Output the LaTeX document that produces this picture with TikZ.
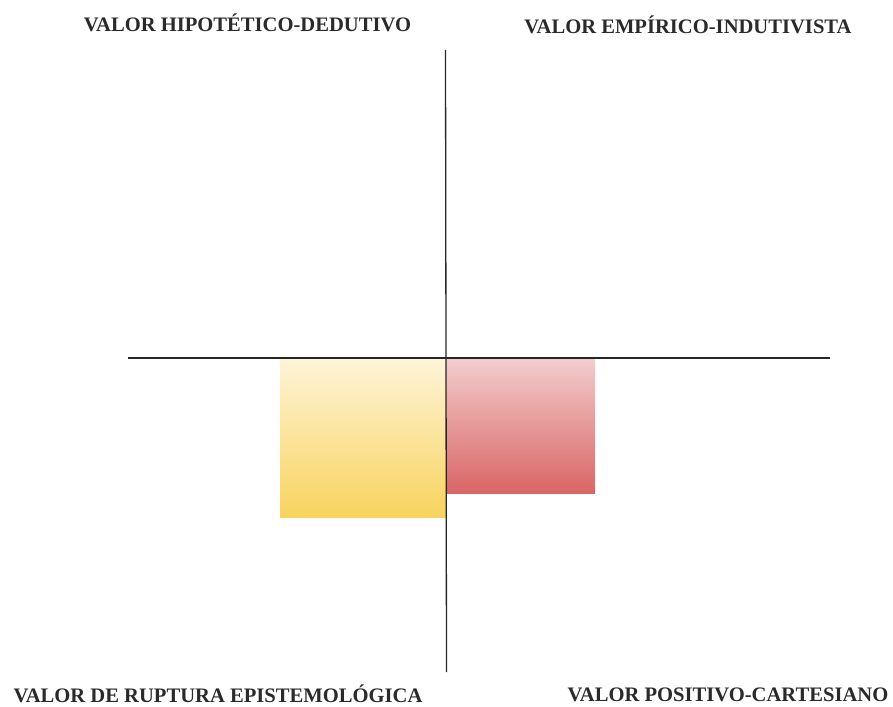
\documentclass[tikz,border=0pt]{standalone}
\usepackage{fontspec}
\setmainfont{Liberation Serif}
\definecolor{ytop}{HTML}{FEF4D8}
\definecolor{ybot}{HTML}{F8D35E}
\definecolor{rtop}{HTML}{F3CDCE}
\definecolor{rbot}{HTML}{D96565}
\definecolor{txt}{HTML}{2A2A2A}
\tikzset{
  lbl/.style={font=\fontsize{20.6}{24}\selectfont\bfseries, text=txt, inner sep=0pt, anchor=base},
  axis/.style={draw=black!85, line width=1.3pt},
}
\begin{document}
\begin{tikzpicture}[x=1pt,y=-1pt]
\useasboundingbox (0,0) rectangle (893,706);
% boxes
\shade[top color=ytop, bottom color=ybot] (280,358) rectangle (446,517);
\shade[top color=rtop, bottom color=rbot] (446,358) rectangle (595,493);
% axes
\coordinate (L) at (128,358);
\coordinate (R) at (830,358);
\coordinate (T) at (445.5,50);
\coordinate (B) at (446.5,672);
\draw[axis] (L) -- (R);
\draw[axis] (T) -- (B);
% labels
\node[lbl] (hd) at (247.5,31.5) {VALOR HIPOTÉTICO-DEDUTIVO};
\node[lbl] (ei) at (688,34) {VALOR EMPÍRICO-INDUTIVISTA};
\node[lbl] (re) at (218,702.5) {VALOR DE RUPTURA EPISTEMOLÓGICA};
\node[lbl] (pc) at (728,701) {VALOR POSITIVO-CARTESIANO};
\end{tikzpicture}
\end{document}
